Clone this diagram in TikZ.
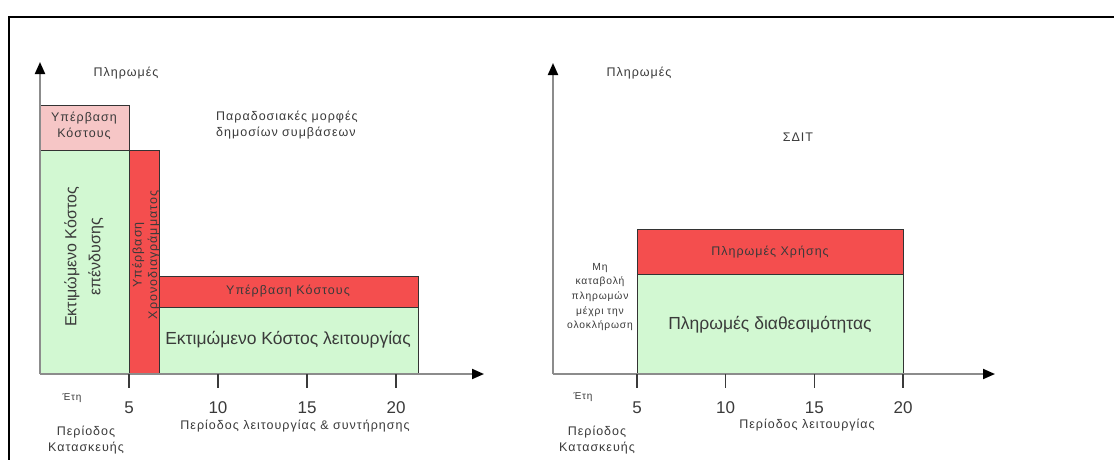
\documentclass[tikz,border=0pt]{standalone}
\usepackage{fontspec}
\setmainfont{Liberation Sans}
\newfontfamily\spacedfont[LetterSpace=8]{Liberation Sans}
\usepackage{xcolor}
\definecolor{chart-red}{HTML}{F44E4E}
\definecolor{chart-pink}{HTML}{F6C6C6}
\definecolor{chart-green}{HTML}{D2F8D2}
\definecolor{chart-axis}{HTML}{8C8C8C}
\definecolor{chart-text}{HTML}{3A3A3A}
\usetikzlibrary{arrows.meta}

\tikzset{
    axis/.style={chart-axis, line width=2pt, -{Triangle[length=12pt, width=10pt, color=black]}},
    tickmark/.style={chart-text, line width=1.2pt},
    block/.style={draw=black!80, line width=1pt},
    small/.style={text=chart-text, font=\spacedfont\fontsize{12.5}{15.5}\selectfont, align=center, inner sep=0pt},
    large/.style={text=chart-text, font=\fontsize{17.5}{24}\selectfont, align=center, inner sep=0pt},
    num/.style={text=chart-text, font=\fontsize{17}{20}\selectfont, inner sep=0pt},
}

\begin{document}
\begin{tikzpicture}[x=1pt, y=-1pt]

    % Page
    \useasboundingbox (0, 0) rectangle (1114, 459);
    \clip (0, 0) rectangle (1114, 459);
    \fill[white] (0, 0) rectangle (1114, 459);

    % Frame
    \draw[line width=1.6pt] (9, 17) rectangle (1130, 480);

    % Left chart: blocks
    \filldraw[block, fill=chart-pink] (40, 105) rectangle (129, 150);
    \filldraw[block, fill=chart-green] (40, 150) rectangle (129, 374);
    \filldraw[block, fill=chart-red] (129, 150) rectangle (159, 374);
    \filldraw[block, fill=chart-red] (159, 276) rectangle (418, 307);
    \filldraw[block, fill=chart-green] (159, 307) rectangle (418, 374);

    % Left chart: axes
    \draw[axis] (40, 374) -- (40, 62);
    \draw[axis] (40, 374) -- (484, 374);
    \foreach \yr [count=\i] in {5, 10, 15, 20} {
        \draw[tickmark] (129+89*\i-89, 374) -- ++(0, 14);
        \node[num] (lyear\yr) at (129+89*\i-89, 408) {\yr};
    }

    % Left chart: labels
    \node[small] (lpay) at (126, 73) {Πληρωμές};
    \node[small, anchor=west, align=left] (ltitle) at (216, 125) {Παραδοσιακές μορφές\\δημοσίων συμβάσεων};
    \node[small] (lover) at (84, 126) {Υπέρβαση\\Κόστους};
    \node[large, font=\fontsize{16}{24}\selectfont, rotate=90] (linvest) at (84, 257) {Εκτιμώμενο Κόστος\\επένδυσης};
    \node[small, rotate=90] (ldelay) at (146, 255) {Υπέρβαση\\Χρονοδιαγράμματος};
    \node[small] (lrun) at (288, 291) {Υπέρβαση Κόστους};
    \node[large] (lcost) at (288, 340) {Εκτιμώμενο Κόστος λειτουργίας};
    \node[small, font=\spacedfont\fontsize{10}{12}\selectfont] (lyears) at (72, 398) {Έτη};
    \node[small] (lbuild) at (86, 440) {Περίοδος\\Κατασκευής};
    \node[small] (loper) at (295, 426) {Περίοδος λειτουργίας \& συντήρησης};

    % Right chart: blocks
    \filldraw[block, fill=chart-red] (637, 229) rectangle (903, 274);
    \filldraw[block, fill=chart-green] (637, 274) rectangle (903, 374);

    % Right chart: axes
    \draw[axis] (553, 374) -- (553, 63);
    \draw[axis] (553, 374) -- (995, 374);
    \foreach \yr [count=\i] in {5, 10, 15, 20} {
        \draw[tickmark] (637+88.67*\i-88.67, 374) -- ++(0, 14);
        \node[num] (ryear\yr) at (637+88.67*\i-88.67, 408) {\yr};
    }

    % Right chart: labels
    \node[small] (rpay) at (639, 73) {Πληρωμές};
    \node[small] (rtitle) at (798, 137) {ΣΔΙΤ};
    \node[small] (ruse) at (770, 252) {Πληρωμές Χρήσης};
    \node[large] (ravail) at (770, 325) {Πληρωμές διαθεσιμότητας};
    \node[small, font=\spacedfont\fontsize{10.3}{14.7}\selectfont] (rnopay) at (600, 297) {Μη\\καταβολή\\πληρωμών\\μέχρι την\\ολοκλήρωση};
    \node[small, font=\spacedfont\fontsize{10}{12}\selectfont] (ryears) at (583, 397) {Έτη};
    \node[small] (rbuild) at (597, 440) {Περίοδος\\Κατασκευής};
    \node[small] (roper) at (807, 425) {Περίοδος λειτουργίας};

\end{tikzpicture}
\end{document}
